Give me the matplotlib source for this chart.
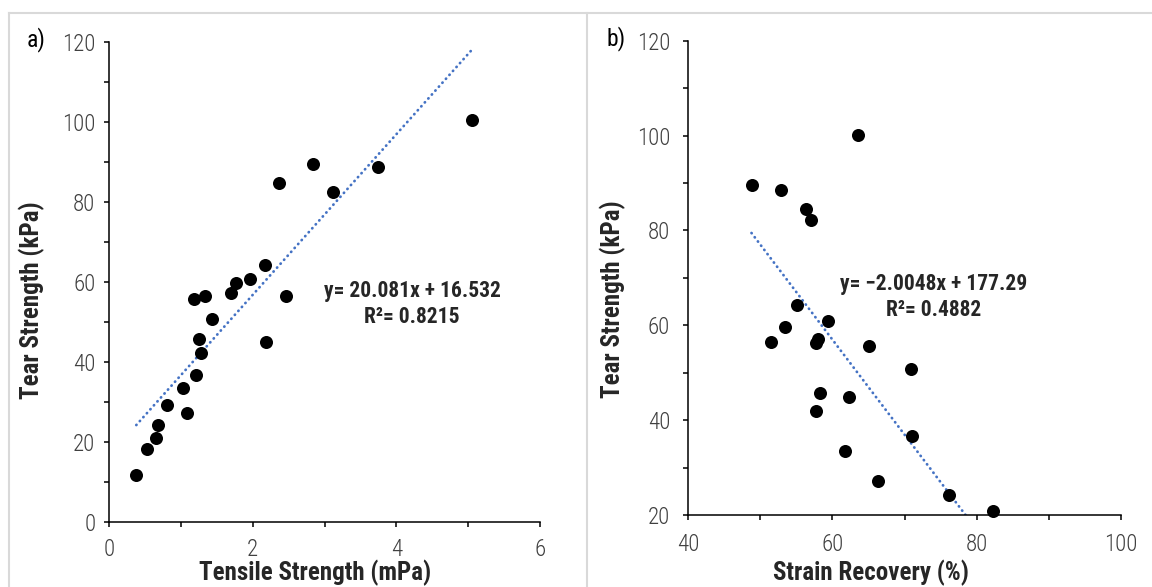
import matplotlib
matplotlib.use("Agg")
import matplotlib.pyplot as plt
from matplotlib.lines import Line2D
from matplotlib.ticker import MultipleLocator
import numpy as np

plt.rcParams['font.family'] = ['Roboto Condensed', 'Liberation Sans Narrow', 'Roboto', 'DejaVu Sans']

# panel a) tensile strength vs tear strength
tensile = [0.38, 0.53, 0.66, 0.68, 0.81, 1.03, 1.08, 1.21, 1.28, 1.25, 1.43, 1.18,
           1.33, 1.70, 1.77, 1.96, 2.17, 2.46, 2.19, 2.37, 2.84, 3.12, 3.75, 5.05]
tear_a = [11.7, 18.3, 21.0, 24.3, 29.2, 33.5, 27.1, 36.7, 42.2, 45.7, 50.7, 55.7,
          56.4, 57.2, 59.8, 60.8, 64.3, 56.5, 44.9, 84.8, 89.5, 82.5, 88.7, 100.3]
fit_a = (20.081, 16.532)

# panel b) strain recovery vs tear strength
recovery = [48.8, 52.9, 56.3, 57.1, 63.6, 55.1, 53.5, 51.5, 59.4, 58.0, 57.8,
            65.1, 70.9, 58.3, 62.3, 57.8, 71.1, 61.8, 66.3, 76.2, 82.3]
tear_b = [89.5, 88.6, 84.6, 82.2, 100.2, 64.2, 59.7, 56.5, 60.9, 57.2, 56.2,
          55.7, 50.7, 45.8, 44.9, 42.0, 36.7, 33.5, 27.1, 24.2, 20.9]
fit_b = (-2.0048, 177.29)

W, H = 1152, 587
fig = plt.figure(figsize=(W / 100, H / 100), dpi=100)

TICK_C = '#404040'
LABEL_C = '#262626'


def px(x0, y0, x1, y1):
    # pixel box (top-left origin) -> figure fraction rect
    return [x0 / W, 1 - y1 / H, (x1 - x0) / W, (y1 - y0) / H]


def style_axis(ax, xmaj, xmin, ymaj, ymin, xpad, ypad):
    for s in ['top', 'right']:
        ax.spines[s].set_visible(False)
    for s in ['left', 'bottom']:
        ax.spines[s].set_linewidth(1.1)
        ax.spines[s].set_color('black')
    ax.xaxis.set_major_locator(MultipleLocator(xmaj))
    ax.xaxis.set_minor_locator(MultipleLocator(xmin))
    ax.yaxis.set_major_locator(MultipleLocator(ymaj))
    ax.yaxis.set_minor_locator(MultipleLocator(ymin))
    ax.tick_params(which='both', direction='out', length=3.8, width=1.1, color='black')
    ax.tick_params(axis='x', which='major', pad=xpad, labelsize=16.5, labelcolor=TICK_C)
    ax.tick_params(axis='y', which='major', pad=ypad, labelsize=16.5, labelcolor=TICK_C)
    for lab in ax.get_xticklabels() + ax.get_yticklabels():
        lab.set_fontweight('light')


def trend(ax, xs, coef):
    xx = np.array([min(xs), max(xs)])
    ax.plot(xx, coef[0] * xx + coef[1], color='#4472C4', lw=2.0,
            linestyle=(0, (0.1, 1.8)), dash_capstyle='round', zorder=2)


# panel a
ax1 = fig.add_axes(px(109, 41.7, 540, 521.7))
ax1.scatter(tensile, tear_a, s=88, color='black', linewidths=0, zorder=3)
trend(ax1, tensile, fit_a)
ax1.set_xlim(0, 6)
ax1.set_ylim(0, 120)
style_axis(ax1, 2, 1, 20, 10, 8, 6)
ax1.set_xlabel('Tensile Strength (mPa)', fontsize=18, fontweight='bold', color=LABEL_C)
ax1.set_ylabel('Tear Strength (kPa)', fontsize=18, fontweight='bold', color=LABEL_C)
ax1.xaxis.set_label_coords(0.478, -0.107)
ax1.yaxis.set_label_coords(-0.179, 0.462)
ax1.xaxis.label.set_va('center')
ax1.yaxis.label.set_va('center')
ax1.text(0.703, 0.453, 'y= 20.081x + 16.532\nR\u00b2= 0.8215', transform=ax1.transAxes,
         ha='center', va='center', multialignment='center', fontsize=15.5,
         fontweight='bold', color=LABEL_C, linespacing=1.25)

# panel b
ax2 = fig.add_axes(px(688, 40.7, 1121, 515))
ax2.scatter(recovery, tear_b, s=88, color='black', linewidths=0, zorder=3, clip_on=False)
trend(ax2, recovery, fit_b)
ax2.set_xlim(40, 100)
ax2.set_ylim(20, 120)
style_axis(ax2, 20, 10, 20, 10, 9, 9)
ax2.set_xlabel('Strain Recovery (%)', fontsize=18, fontweight='bold', color=LABEL_C)
ax2.set_ylabel('Tear Strength (kPa)', fontsize=18, fontweight='bold', color=LABEL_C)
ax2.xaxis.set_label_coords(0.423, -0.122)
ax2.yaxis.set_label_coords(-0.173, 0.454)
ax2.xaxis.label.set_va('center')
ax2.yaxis.label.set_va('center')
ax2.text(0.568, 0.459, 'y= \u22122.0048x + 177.29\nR\u00b2= 0.4882', transform=ax2.transAxes,
         ha='center', va='center', multialignment='center', fontsize=15.5,
         fontweight='bold', color=LABEL_C, linespacing=1.25)

# panel letters
fig.text(27 / W, 1 - 40 / H, 'a)', fontsize=17, color='black', va='center', ha='left')
fig.text(606 / W, 1 - 39 / H, 'b)', fontsize=17, color='black', va='center', ha='left')

# light grey panel frames
frame = dict(color='#D9D9D9', lw=1.5, transform=fig.transFigure)
fig.add_artist(Line2D([9 / W, 1], [1 - 13 / H, 1 - 13 / H], **frame))
fig.add_artist(Line2D([9 / W, 9 / W], [0, 1 - 13 / H], **frame))
fig.add_artist(Line2D([587 / W, 587 / W], [0, 1 - 13 / H], **frame))

fig.savefig('out.png', dpi=100)
